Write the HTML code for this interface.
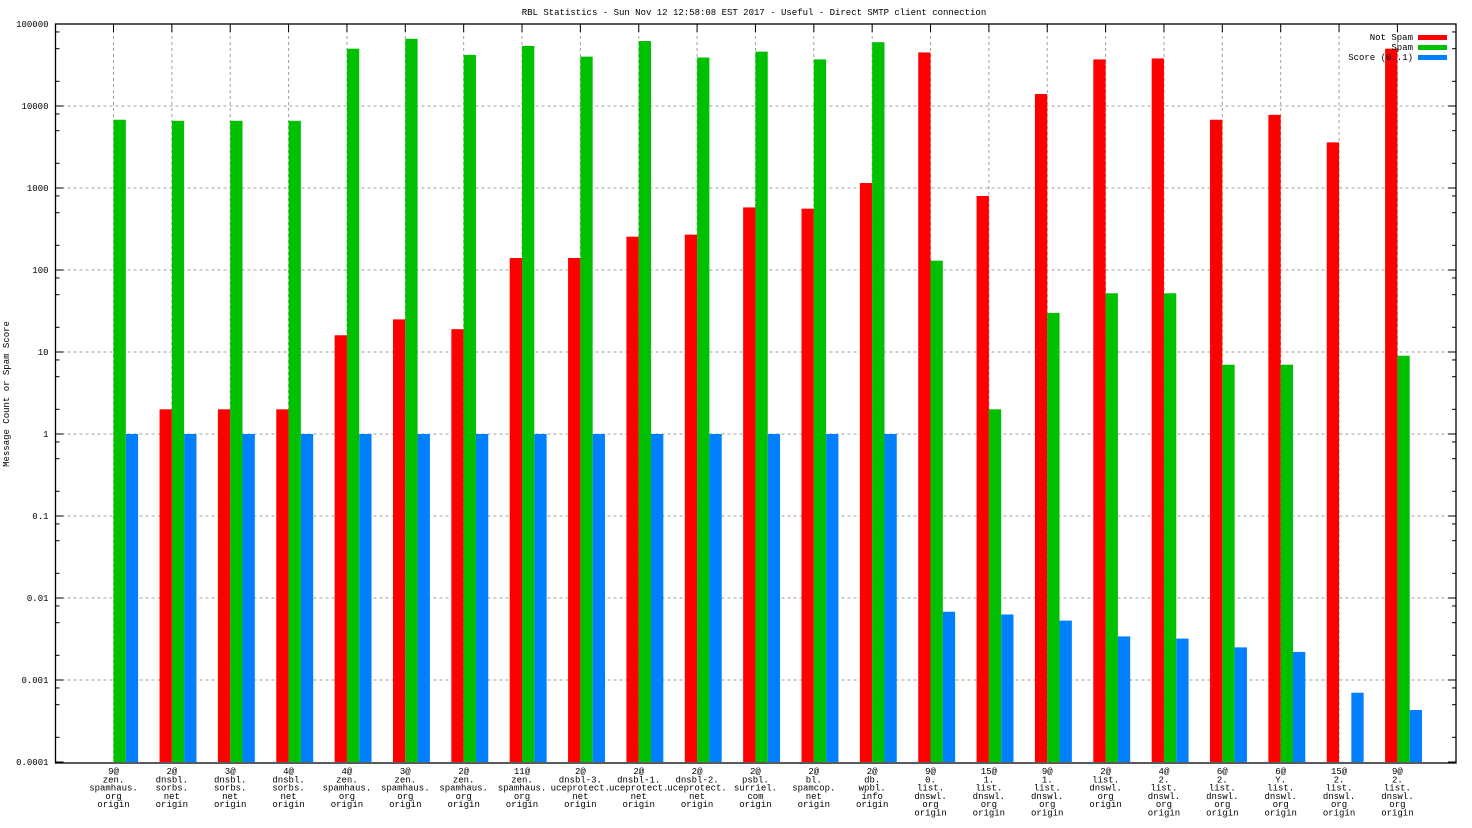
<!DOCTYPE html>
<html><head><meta charset="utf-8">
<style>
html,body{margin:0;padding:0;background:#fff;}
svg{display:block;font-family:"Liberation Mono",monospace;}
</style></head>
<body>
<svg id="chart" width="1472" height="828" viewBox="0 0 1472 828">
<text x="754" y="15" font-size="9" text-anchor="middle">RBL Statistics - Sun Nov 12 12:58:08 EST 2017 - Useful - Direct SMTP client connection</text>
<text transform="translate(9,394) rotate(-90)" font-size="9" text-anchor="middle">Message Count or Spam Score</text>
<g id="grid"></g>
<g id="bars"></g>
<g id="axes"></g>
<g id="legend">
<text x="1413" y="40" font-size="9" text-anchor="end">Not Spam</text>
<rect x="1418" y="35" width="29" height="5" fill="#ff0000"/>
<text x="1413" y="50" font-size="9" text-anchor="end">Spam</text>
<rect x="1418" y="45" width="29" height="5" fill="#00c000"/>
<text x="1413" y="60" font-size="9" text-anchor="end">Score (0..1)</text>
<rect x="1418" y="55" width="29" height="5" fill="#0080ff"/>
</g>
</svg>
<script>
const categories = [
 ["9@","zen.","spamhaus.","org","origin"],
 ["2@","dnsbl.","sorbs.","net","origin"],
 ["3@","dnsbl.","sorbs.","net","origin"],
 ["4@","dnsbl.","sorbs.","net","origin"],
 ["4@","zen.","spamhaus.","org","origin"],
 ["3@","zen.","spamhaus.","org","origin"],
 ["2@","zen.","spamhaus.","org","origin"],
 ["11@","zen.","spamhaus.","org","origin"],
 ["2@","dnsbl-3.","uceprotect.","net","origin"],
 ["2@","dnsbl-1.","uceprotect.","net","origin"],
 ["2@","dnsbl-2.","uceprotect.","net","origin"],
 ["2@","psbl.","surriel.","com","origin"],
 ["2@","bl.","spamcop.","net","origin"],
 ["2@","db.","wpbl.","info","origin"],
 ["9@","0.","list.","dnswl.","org","origin"],
 ["15@","1.","list.","dnswl.","org","origin"],
 ["9@","1.","list.","dnswl.","org","origin"],
 ["2@","list.","dnswl.","org","origin"],
 ["4@","2.","list.","dnswl.","org","origin"],
 ["6@","2.","list.","dnswl.","org","origin"],
 ["6@","Y.","list.","dnswl.","org","origin"],
 ["15@","2.","list.","dnswl.","org","origin"],
 ["9@","2.","list.","dnswl.","org","origin"]
];
const notSpam = [0,2,2,2,16,25,19,140,140,255,270,580,560,1150,45000,800,14000,37000,38000,6800,7800,3600,50000];
const spam = [6800,6600,6600,6600,50000,66000,42000,54000,40000,62000,39000,46000,37000,60000,130,2,30,52,52,7,7,0,9];
const score = [1,1,1,1,1,1,1,1,1,1,1,1,1,1,0.0068,0.0063,0.0053,0.0034,0.0032,0.0025,0.0022,0.0007,0.00043];
const yTickLabels = ["100000","10000","1000","100","10","1","0.1","0.01","0.001","0.0001"];
const yTickValues = [100000,10000,1000,100,10,1,0.1,0.01,0.001,0.0001];

const NS="http://www.w3.org/2000/svg";
const L=55.5,R=1456,T=24,B=762;
const yMin=-4,yMax=5;
function y(v){return T+(yMax-Math.log10(v))/(yMax-yMin)*(B-T);}
function x(i){return 113.5+i*(1397.4-113.5)/(categories.length-1);}
function mk(tag,attrs,parent){const e=document.createElementNS(NS,tag);for(const k in attrs)e.setAttribute(k,attrs[k]);parent.appendChild(e);return e;}
const grid=document.getElementById('grid'),bars=document.getElementById('bars'),axes=document.getElementById('axes');

yTickValues.forEach((v,i)=>{
  const yy=y(v);
  if(i>0&&i<yTickValues.length-1){
    const g=mk('line',{x1:L,x2:R,y1:yy,y2:yy,stroke:'#a0a0a0','stroke-dasharray':'3,3','stroke-width':1},grid);
    
    
  }
  const t=mk('line',{x1:L,x2:L+8,y1:yy,y2:yy,stroke:'#000'},axes);
  
  
  const t2=mk('line',{x1:R,x2:R-8,y1:yy,y2:yy,stroke:'#000'},axes);
  
  
  const lb=mk('text',{x:L-7,y:yy+3,'font-size':9,'text-anchor':'end'},axes);
  lb.textContent=yTickLabels[i];
  
  
  if(i<yTickValues.length-1){
    [8,5,2].forEach(m=>{
      const my=y(v/10*m);
      const a=mk('line',{x1:L,x2:L+4,y1:my,y2:my,stroke:'#000'},axes);
      
      
      const b=mk('line',{x1:R,x2:R-4,y1:my,y2:my,stroke:'#000'},axes);
      
      
    });
  }
});

const bw=12.3;
categories.forEach((c,i)=>{
  const cx=x(i);
  const g=mk('line',{x1:cx,x2:cx,y1:T,y2:B,stroke:'#a0a0a0','stroke-dasharray':'3,3'},grid);
  
  
  const series=[[notSpam[i],'#ff0000',-bw,'bar-not-spam'],[spam[i],'#00c000',0,'bar-spam'],[score[i],'#0080ff',bw,'bar-score']];
  series.forEach(s=>{
    if(s[0]>0){
      const top=Math.max(T,y(s[0]));
      const r=mk('rect',{x:cx+s[2],y:top,width:bw,height:B-top,fill:s[1]},bars);
      
      
    }
  });
  const t=mk('line',{x1:cx,x2:cx,y1:T,y2:T+8,stroke:'#000'},axes);
  
  
  const lb=mk('text',{'font-size':9,'text-anchor':'middle'},axes);
  
  
  c.forEach((line,k)=>{
    const ts=mk('tspan',{x:cx,y:774+k*8.3},lb);
    ts.textContent=line;
  });
});

const frame=mk('rect',{x:L,y:T,width:R-L,height:B-T+1,fill:'none',stroke:'#000','stroke-width':1.3},axes);


</script>
</body></html>
